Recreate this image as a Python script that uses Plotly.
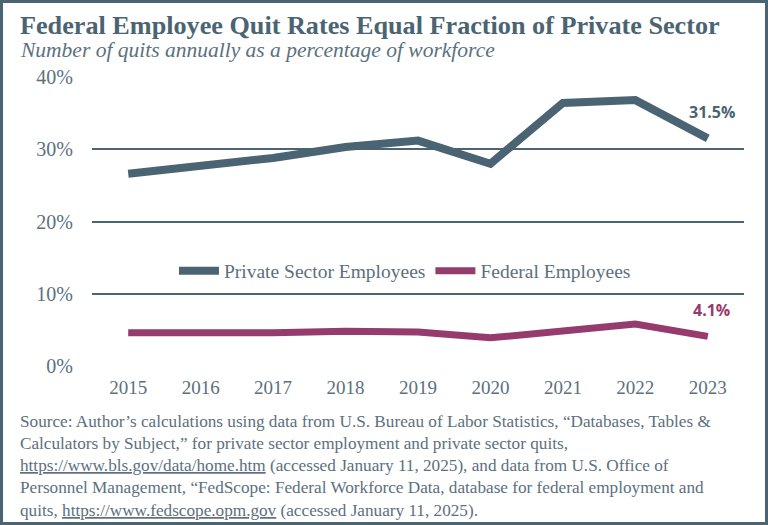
import plotly.graph_objects as go

years = [2015, 2016, 2017, 2018, 2019, 2020, 2021, 2022, 2023]
year_labels = ["2015", "2016", "2017", "2018", "2019", "2020", "2021", "2022", "2023"]
private_quits = [26.6, 27.7, 28.8, 30.3, 31.2, 28.0, 36.4, 36.8, 31.5]
federal_quits = [4.6, 4.5, 4.6, 4.8, 4.7, 3.9, 4.8, 5.8, 4.1]
y_ticks = [0, 10, 20, 30, 40]
y_tick_labels = ["0%", "10%", "20%", "30%", "40%"]

source_lines = [
    "Source: Author\u2019s calculations using data from U.S. Bureau of Labor Statistics, \u201cDatabases, Tables &",
    "Calculators by Subject,\u201d for private sector employment and private sector quits,",
    "<span style='text-decoration:underline'>https://www.bls.gov/data/home.htm</span> (accessed January 11, 2025), and data from U.S. Office of",
    "Personnel Management, \u201cFedScope: Federal Workforce Data, database for federal employment and",
    "quits, <span style='text-decoration:underline'>https://www.fedscope.opm.gov</span> (accessed January 11, 2025).",
]

SLATE = "#4a6473"
PLUM = "#953b6d"
TEXT = "#5c707e"
FONT = "Liberation Serif"

W, H = 768, 525
L, R, T, B = 92, 24, 77, 159
pw, ph = W - L - R, H - T - B

fig = go.Figure()
fig.add_trace(go.Scatter(x=years, y=private_quits, mode="lines", name="Private Sector Employees",
                         line=dict(color=SLATE, width=8)))
fig.add_trace(go.Scatter(x=years, y=federal_quits, mode="lines", name="Federal Employees",
                         line=dict(color=PLUM, width=7)))

# end labels
fig.add_annotation(x=years[-1], y=private_quits[-1], text="<b>%.1f%%</b>" % private_quits[-1],
                   showarrow=False, xanchor="center", yanchor="bottom", yshift=13, xshift=4,
                   font=dict(family="Open Sans", size=16, color=SLATE))
fig.add_annotation(x=years[-1], y=federal_quits[-1], text="<b>%.1f%%</b>" % federal_quits[-1],
                   showarrow=False, xanchor="center", yanchor="bottom", yshift=13, xshift=4,
                   font=dict(family="Open Sans", size=16, color=PLUM))

# title and subtitle
fig.add_annotation(xref="paper", yref="paper", x=-(L - 18) / pw, y=1 + (T - 9) / ph,
                   xanchor="left", yanchor="top", showarrow=False,
                   text="<b>Federal Employee Quit Rates Equal Fraction of Private Sector</b>",
                   font=dict(family=FONT, size=26.2, color=SLATE))
fig.add_annotation(xref="paper", yref="paper", x=-(L - 18) / pw, y=1 + (T - 36) / ph,
                   xanchor="left", yanchor="top", showarrow=False,
                   text="<i>Number of quits annually as a percentage of workforce</i>",
                   font=dict(family=FONT, size=21.5, color=TEXT))

# source note
for i, line in enumerate(source_lines):
    ypix = 421 + i * 22.3
    fig.add_annotation(xref="paper", yref="paper", x=-(L - 18) / pw, y=(H - B - ypix) / ph,
                       xanchor="left", yanchor="middle", showarrow=False, text=line,
                       font=dict(family=FONT, size=17.2, color=TEXT))

# frame around the whole graphic
fig.add_shape(type="rect", xref="paper", yref="paper",
              x0=-(L - 1.5) / pw, x1=1 + (R - 1.5) / pw,
              y0=-(B - 1.5) / ph, y1=1 + (T - 1.5) / ph,
              line=dict(color=SLATE, width=3), layer="above")

fig.update_xaxes(range=[2014.5, 2023.5], tickvals=years, ticktext=year_labels,
                 showgrid=False, zeroline=False, showline=False,
                 ticks="", tickfont=dict(family=FONT, size=19, color=TEXT), ticklabelstandoff=8)
fig.update_yaxes(range=[0, 40], tickvals=y_ticks, ticktext=y_tick_labels, showgrid=True,
                 gridcolor=SLATE, gridwidth=2, zeroline=False, showline=False, ticks="",
                 tickfont=dict(family=FONT, size=20, color=TEXT), ticklabelstandoff=18)

fig.update_layout(width=W, height=H, margin=dict(l=L, r=R, t=T, b=B),
                  plot_bgcolor="white", paper_bgcolor="white",
                  legend=dict(orientation="h", x=0.48, y=(366 - 271) / ph, xanchor="center", yanchor="middle",
                              font=dict(family=FONT, size=19.5, color=TEXT), bgcolor="rgba(0,0,0,0)",
                              itemwidth=40),
                  showlegend=True)

# drop the browser's default page margin so the figure fills the window
fig.write_html("out.html", config={"displayModeBar": False},
               post_script="document.body.style.margin='0';")
